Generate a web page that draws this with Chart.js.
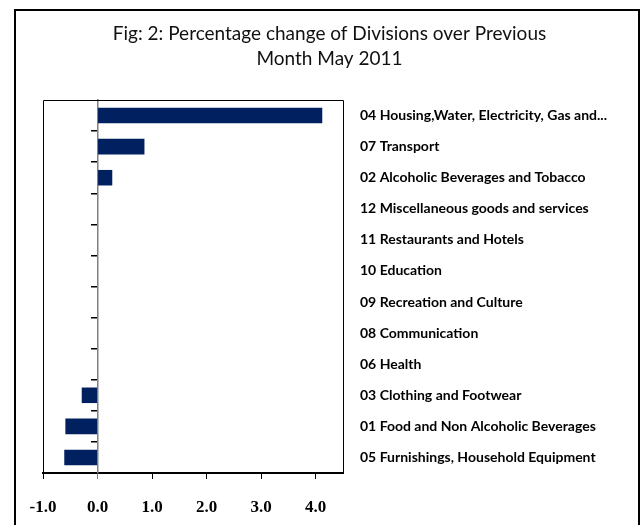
<!DOCTYPE html>
<html>
<head>
<meta charset="utf-8">
<script src="https://cdn.jsdelivr.net/npm/chart.js@4"></script>
<style>
  html, body { margin: 0; padding: 0; background: #fff; }
  #wrap { width: 641px; height: 525px; position: relative; }
</style>
</head>
<body>
<div id="wrap"><canvas id="c" width="641" height="525"></canvas></div>
<script>
const titleLines = ["Fig: 2: Percentage change of Divisions over Previous", "Month May 2011"];
const categories = [
  "04 Housing,Water, Electricity, Gas and...",
  "07 Transport",
  "02 Alcoholic Beverages and Tobacco",
  "12 Miscellaneous goods and services",
  "11 Restaurants and Hotels",
  "10 Education",
  "09 Recreation and Culture",
  "08 Communication",
  "06 Health",
  "03 Clothing and Footwear",
  "01 Food and Non Alcoholic Beverages",
  "05 Furnishings, Household Equipment"
];
const changeValues = [4.12, 0.86, 0.27, 0, 0, 0, 0, 0, 0, -0.29, -0.59, -0.61];
const xTickValues = [-1.0, 0.0, 1.0, 2.0, 3.0, 4.0];
const xMin = -1.0, xMax = 4.5;

const framePlugin = {
  id: 'frame',
  beforeDraw(chart) {
    const ctx = chart.ctx;
    ctx.save();
    ctx.fillStyle = '#fff';
    ctx.fillRect(0, 0, chart.width, chart.height);
    ctx.strokeStyle = '#000';
    ctx.lineWidth = 2;
    ctx.strokeRect(15, 10, 624, 530);
    ctx.restore();
  },
  afterDatasetsDraw(chart) {
    const a = chart.chartArea;
    const ctx = chart.ctx;
    ctx.save();
    ctx.strokeStyle = '#000';
    ctx.lineWidth = 1;
    ctx.beginPath();
    ctx.moveTo(Math.round(a.left) + 0.5, a.bottom);
    ctx.lineTo(Math.round(a.left) + 0.5, Math.round(a.top) + 0.5);
    ctx.lineTo(Math.round(a.right) + 0.5, Math.round(a.top) + 0.5);
    ctx.lineTo(Math.round(a.right) + 0.5, a.bottom);
    ctx.stroke();
    ctx.restore();
  }
};

new Chart(document.getElementById('c'), {
  type: 'bar',
  data: {
    labels: categories,
    datasets: [{
      data: changeValues,
      backgroundColor: '#002060',
      borderWidth: 0,
      barPercentage: 0.5,
      categoryPercentage: 1.0,
      yAxisID: 'y',
      xAxisID: 'x'
    }]
  },
  options: {
    indexAxis: 'y',
    responsive: false,
    animation: false,
    layout: { padding: { left: 43, right: 25, top: 0, bottom: 0 } },
    plugins: {
      legend: { display: false },
      tooltip: { enabled: false },
      title: {
        display: true,
        text: titleLines,
        color: '#111',
        font: { family: 'Lato', size: 19, weight: 'normal', lineHeight: '25px' },
        padding: { top: 21, bottom: 29 }
      }
    },
    scales: {
      x: {
        type: 'linear',
        position: 'bottom',
        min: xMin,
        max: xMax,
        ticks: {
          color: '#000',
          padding: 18,
          font: { family: 'Liberation Serif', size: 17, weight: 'bold' },
          callback: v => Number(v).toFixed(1)
        },
        afterBuildTicks: s => { s.ticks = xTickValues.map(v => ({ value: v })); },
        afterFit: s => { s.height = 52; },
        grid: {
          drawOnChartArea: false,
          drawTicks: true,
          tickLength: 6,
          tickColor: ctx => (ctx.tick && ctx.tick.value === 0) ? '#808080' : '#000',
          lineWidth: 1
        },
        border: { display: true, color: '#000', width: 2 }
      },
      y: {
        type: 'category',
        position: 'right',
        offset: true,
        grid: { display: false, drawTicks: false },
        border: { display: false },
        ticks: {
          crossAlign: 'near',
          padding: 17,
          color: '#000',
          font: { family: 'Lato', size: 14, weight: 'bold' }
        },
        afterFit: s => { s.width = 273; }
      },
      y2: {
        type: 'category',
        position: { x: 0 },
        offset: true,
        grid: {
          offset: true,
          drawOnChartArea: false,
          drawTicks: true,
          tickLength: 6,
          tickColor: ctx => (ctx.type !== 'tick' || ctx.index === 0) ? 'rgba(0,0,0,0)' : '#000',
          lineWidth: 1.5
        },
        border: { display: true, color: '#808080', width: 1.5 },
        ticks: { display: false }
      }
    }
  },
  plugins: [framePlugin]
});
</script>
</body>
</html>
